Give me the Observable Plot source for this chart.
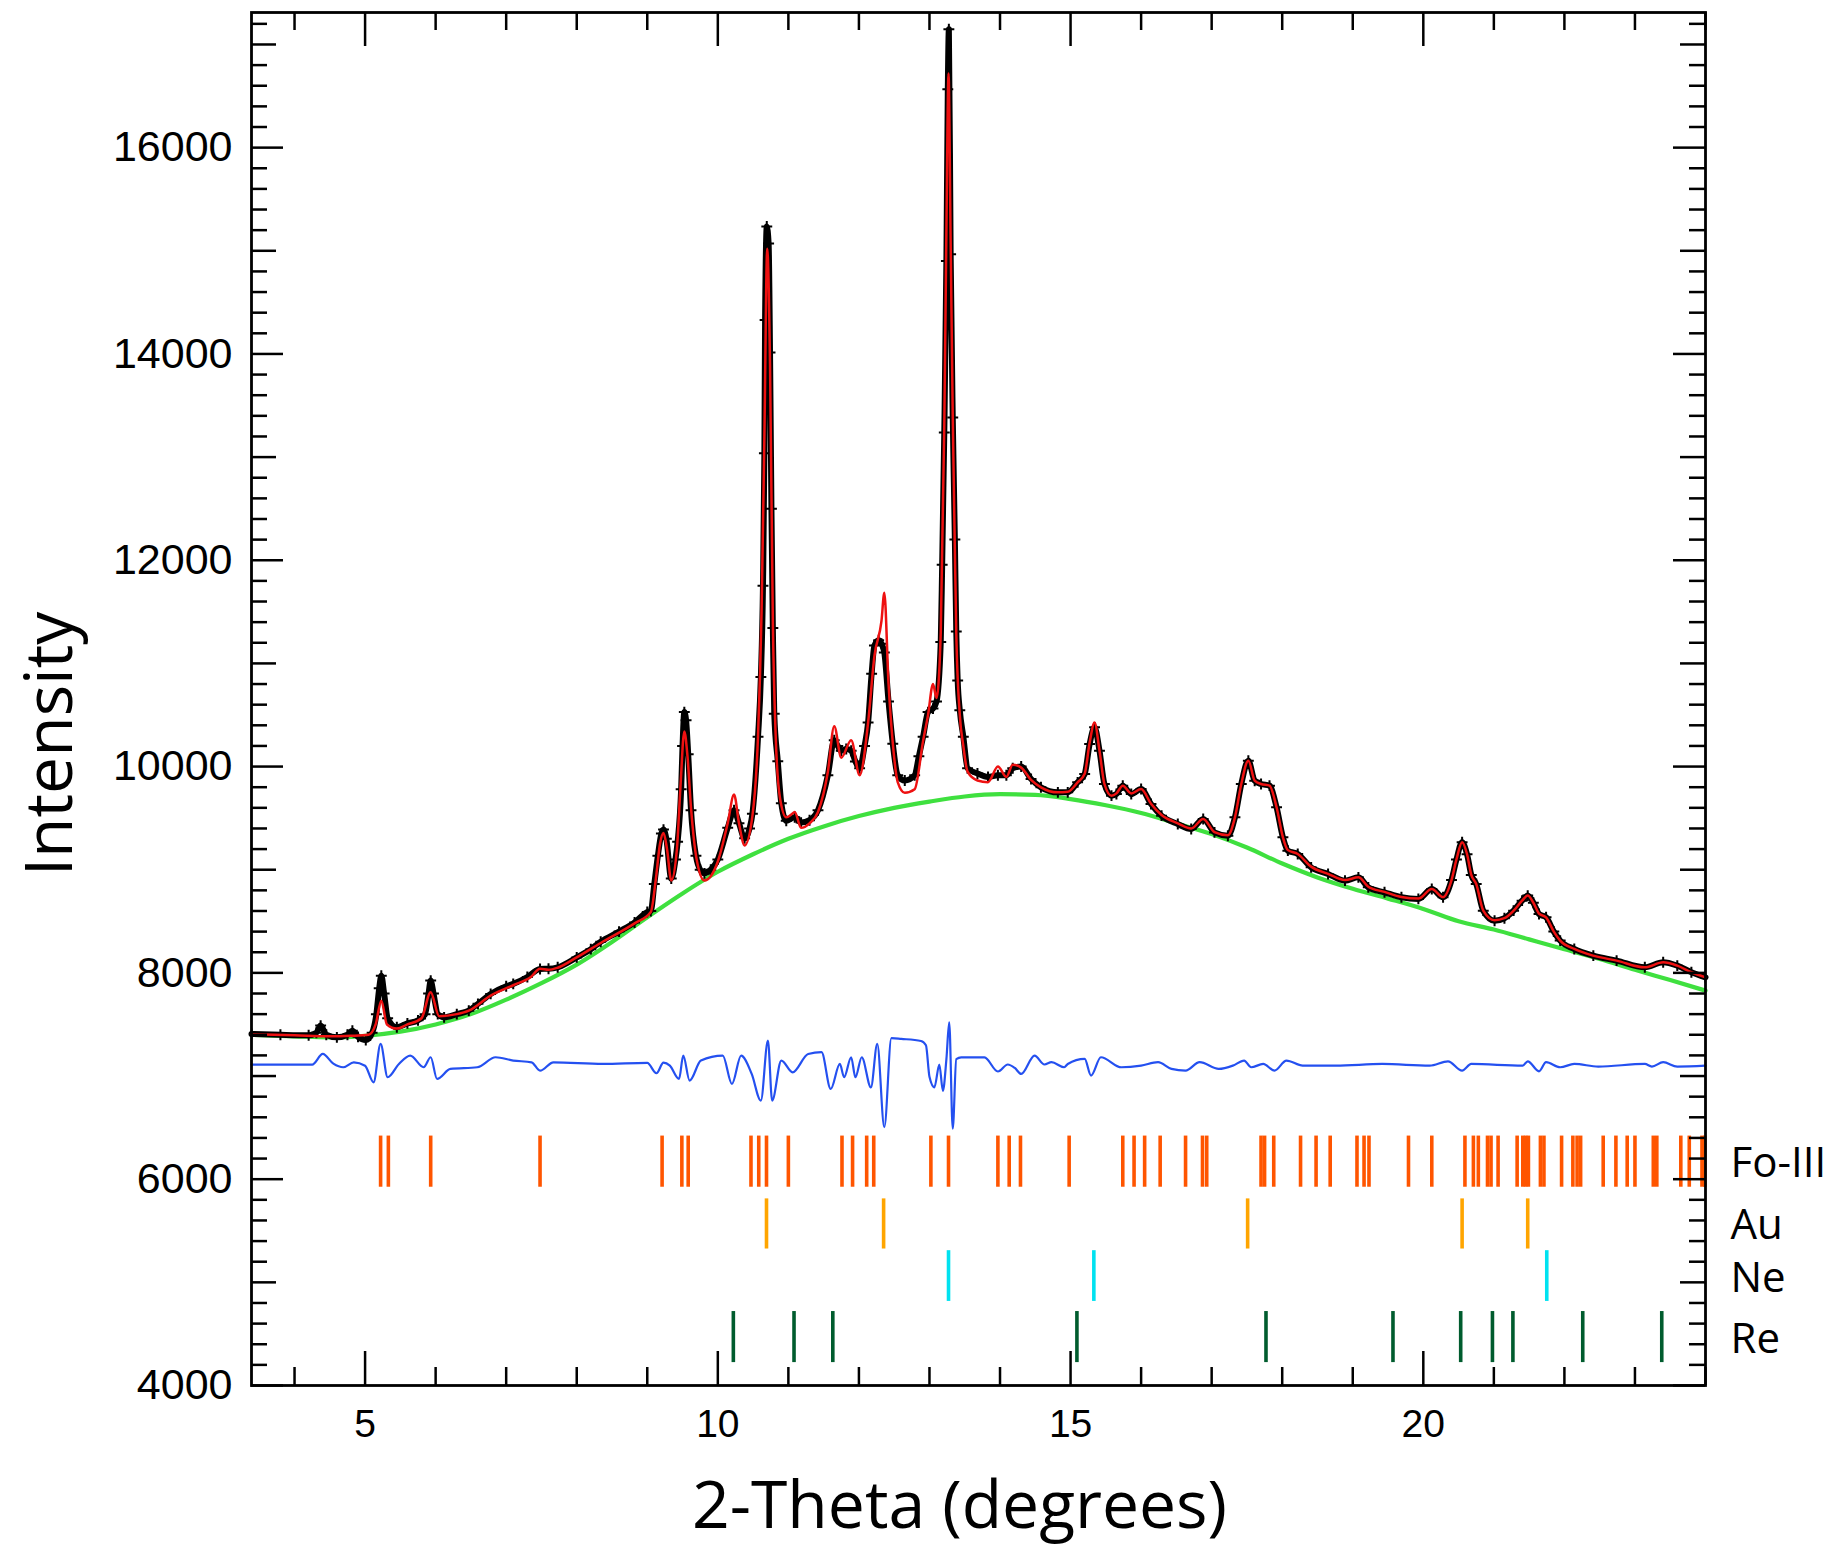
<!DOCTYPE html>
<html><head><meta charset="utf-8">
<script src="https://cdn.jsdelivr.net/npm/d3@7"></script>
<script src="https://cdn.jsdelivr.net/npm/@observablehq/plot@0.6"></script>
<style>html,body{margin:0;padding:0;background:#fff;} svg{display:block;}</style>
</head><body><div id="chart"></div>
<script>
// ---- data (2-theta in degrees, intensity) ----
const observed = [
[3.39,7408],[3.8,7400],[4.2,7395],[4.31,7420],[4.37,7489],[4.45,7400],[4.6,7375],[4.75,7400],[4.82,7440],[4.9,7380],
[5.01,7350],[5.1,7420],[5.16,7600],[5.2,7850],[5.23,7973],[5.27,7800],[5.32,7560],[5.45,7473],[5.6,7510],[5.75,7540],
[5.85,7600],[5.9,7800],[5.93,7925],[5.97,7800],[6.03,7600],[6.12,7569],[6.3,7600],[6.47,7634],[6.6,7700],[6.78,7796],
[7.0,7870],[7.1,7893],[7.3,7960],[7.48,8038],[7.6,8040],[7.73,8054],[8.0,8150],[8.2,8230],[8.34,8302],[8.6,8400],
[8.82,8489],[9.0,8590],[9.05,8600],[9.1,8862],[9.15,9135],[9.2,9350],[9.23,9389],[9.27,9300],[9.34,8914],[9.4,9100],
[9.43,9270],[9.48,9780],[9.5,10200],[9.525,10528],[9.55,10450],[9.58,10120],[9.62,9576],[9.69,9135],[9.75,9000],[9.81,8965],
[9.9,9000],[10.0,9100],[10.14,9406],[10.23,9576],[10.3,9450],[10.38,9304],[10.45,9400],[10.49,9542],[10.57,10290],[10.61,10868],
[10.64,11752],[10.66,13038],[10.67,14328],[10.694,15235],[10.72,15070],[10.74,14014],[10.76,12500],[10.78,11344],[10.8,10511],[10.85,10052],
[10.9,9644],[10.97,9474],[11.09,9508],[11.18,9457],[11.3,9480],[11.42,9576],[11.56,9916],[11.65,10256],[11.7,10200],[11.75,10154],
[11.82,10170],[11.89,10154],[11.95,10050],[12.01,9984],[12.08,10200],[12.13,10426],[12.18,10900],[12.22,11174],[12.28,11225],[12.32,11191],
[12.36,11106],[12.42,10630],[12.48,10222],[12.55,9916],[12.65,9865],[12.79,9916],[12.85,10100],[12.91,10290],[12.98,10528],[13.05,10562],
[13.1,10630],[13.16,11208],[13.18,11956],[13.21,13239],[13.24,14902],[13.26,16566],[13.275,17148],[13.3,14967],[13.33,13384],[13.36,12200],
[13.38,11310],[13.4,10834],[13.43,10545],[13.48,10290],[13.54,9984],[13.68,9933],[13.83,9899],[13.97,9916],[14.09,9916],[14.18,9984],
[14.3,10001],[14.44,9879],[14.58,9799],[14.82,9750],[14.96,9750],[15.1,9847],[15.2,9928],[15.27,10218],[15.34,10380],[15.41,10154],
[15.48,9831],[15.58,9718],[15.65,9734],[15.74,9815],[15.86,9734],[16.0,9782],[16.14,9637],[16.29,9524],[16.52,9443],[16.71,9395],
[16.88,9492],[17.04,9362],[17.23,9330],[17.33,9508],[17.42,9831],[17.52,10057],[17.61,9863],[17.7,9831],[17.82,9815],[17.92,9605],
[18.01,9314],[18.08,9185],[18.22,9153],[18.41,9023],[18.65,8959],[18.89,8894],[19.08,8926],[19.22,8829],[19.45,8781],[19.69,8733],
[19.93,8717],[20.12,8813],[20.28,8733],[20.4,8900],[20.47,9100],[20.55,9266],[20.62,9150],[20.68,8950],[20.75,8862],[20.85,8603],
[21.01,8506],[21.15,8530],[21.28,8603],[21.4,8700],[21.48,8749],[21.56,8680],[21.64,8571],[21.74,8539],[21.85,8400],[21.94,8313],
[22.14,8232],[22.41,8167],[22.74,8119],[23.14,8054],[23.4,8103],[23.6,8070],[23.8,8006],[24.0,7957]
];
const calculated = [
[3.39,7405],[4.0,7395],[4.5,7385],[4.8,7390],[5.05,7400],[5.15,7500],[5.23,7731],[5.31,7500],[5.45,7460],[5.6,7500],
[5.8,7560],[5.93,7812],[6.05,7580],[6.3,7600],[6.47,7634],[6.78,7780],[7.1,7880],[7.35,7960],[7.48,8040],[7.6,8030],
[7.73,8050],[8.0,8150],[8.34,8290],[8.82,8480],[9.05,8590],[9.12,8900],[9.18,9250],[9.23,9356],[9.28,9200],[9.34,8896],
[9.42,9200],[9.47,9800],[9.525,10341],[9.57,10100],[9.62,9600],[9.7,9100],[9.81,8896],[10.0,9080],[10.14,9450],[10.23,9729],
[10.3,9450],[10.38,9236],[10.49,9520],[10.57,10300],[10.62,11500],[10.66,13200],[10.7,15019],[10.74,13900],[10.78,11400],[10.82,10300],
[10.88,9700],[10.97,9508],[11.05,9540],[11.09,9560],[11.18,9406],[11.3,9450],[11.42,9560],[11.56,9950],[11.65,10392],[11.75,10086],
[11.89,10256],[12.01,9916],[12.13,10426],[12.22,11072],[12.32,11412],[12.36,11684],[12.42,10800],[12.48,10230],[12.55,9850],[12.65,9746],
[12.79,9780],[12.91,10250],[12.98,10500],[13.05,10800],[13.1,10664],[13.16,11300],[13.21,13300],[13.24,15200],[13.27,16719],[13.3,15100],
[13.33,13400],[13.36,12100],[13.38,11300],[13.43,10500],[13.48,10200],[13.54,9950],[13.68,9865],[13.83,9848],[13.97,10001],[14.09,9900],
[14.18,10018],[14.3,9990],[14.44,9870],[14.58,9799],[14.82,9750],[14.96,9755],[15.1,9847],[15.2,9930],[15.27,10230],[15.34,10428],
[15.41,10154],[15.48,9831],[15.58,9718],[15.65,9740],[15.74,9815],[15.86,9740],[16.0,9782],[16.14,9640],[16.29,9530],[16.52,9450],
[16.71,9400],[16.88,9492],[17.04,9365],[17.23,9335],[17.33,9508],[17.42,9831],[17.52,10057],[17.61,9863],[17.7,9831],[17.82,9815],
[17.92,9605],[18.01,9314],[18.08,9190],[18.22,9153],[18.41,9030],[18.65,8960],[18.89,8900],[19.08,8926],[19.22,8835],[19.45,8785],
[19.69,8735],[19.93,8720],[20.12,8813],[20.28,8735],[20.4,8900],[20.47,9100],[20.55,9266],[20.62,9150],[20.68,8950],[20.75,8862],
[20.85,8603],[21.01,8510],[21.15,8530],[21.28,8603],[21.4,8700],[21.48,8749],[21.56,8680],[21.64,8575],[21.74,8539],[21.85,8400],
[21.94,8313],[22.14,8232],[22.41,8167],[22.74,8119],[23.14,8054],[23.4,8103],[23.6,8070],[23.8,8006],[24.0,7957]
];
const background = [
[3.39,7400],[4.0,7385],[4.5,7375],[5.0,7390],[5.5,7430],[6.0,7500],[6.5,7600],[7.0,7740],[7.5,7900],[8.0,8080],
[8.5,8300],[9.0,8540],[9.5,8770],[10.0,8980],[10.5,9150],[11.0,9300],[11.5,9420],[12.0,9520],[12.5,9600],[13.0,9660],
[13.5,9710],[14.0,9732],[14.5,9725],[15.0,9685],[15.5,9625],[16.0,9550],[16.5,9450],[17.0,9345],[17.5,9215],[18.0,9060],
[18.5,8925],[19.0,8815],[19.5,8720],[20.0,8620],[20.5,8500],[21.0,8420],[21.5,8325],[22.0,8230],[22.5,8135],[23.0,8030],
[23.5,7930],[24.0,7828]
];
const difference = [
[3.39,7111],[4.25,7111],[4.4,7214],[4.55,7120],[4.69,7085],[4.84,7133],[5.0,7100],[5.12,6939],[5.22,7311],[5.32,6988],
[5.48,7117],[5.64,7198],[5.83,7085],[5.93,7182],[6.02,6972],[6.21,7069],[6.59,7085],[6.85,7182],[7.1,7150],[7.36,7133],
[7.48,7052],[7.67,7133],[8.37,7117],[9.0,7127],[9.13,7027],[9.23,7130],[9.32,7101],[9.45,6972],[9.51,7198],[9.6,6956],
[9.76,7150],[10.07,7198],[10.2,6923],[10.33,7198],[10.48,7021],[10.61,6762],[10.71,7344],[10.77,6762],[10.9,7150],[11.06,7036],
[11.28,7214],[11.47,7231],[11.6,6875],[11.73,7117],[11.79,6988],[11.89,7182],[11.95,6988],[12.04,7182],[12.17,6891],[12.26,7311],
[12.36,6504],[12.46,7367],[12.6,7360],[12.88,7340],[12.95,7299],[13.0,6993],[13.07,6891],[13.14,7112],[13.19,6857],[13.24,7163],
[13.28,7520],[13.33,6490],[13.38,7163],[13.45,7180],[13.78,7180],[13.97,7044],[14.11,7112],[14.21,7078],[14.3,7020],[14.49,7197],
[14.63,7112],[14.73,7134],[14.91,7085],[14.96,7117],[15.2,7166],[15.29,7004],[15.43,7182],[15.72,7085],[16.0,7101],[16.24,7134],
[16.43,7069],[16.63,7053],[16.83,7134],[17.1,7069],[17.3,7101],[17.46,7150],[17.56,7085],[17.73,7117],[17.89,7053],[18.06,7150],
[18.29,7101],[18.76,7101],[19.42,7117],[20.09,7101],[20.35,7143],[20.55,7053],[20.68,7117],[21.41,7101],[21.48,7143],[21.64,7046],
[21.74,7134],[21.94,7085],[22.14,7117],[22.48,7092],[23.14,7117],[23.24,7092],[23.4,7134],[23.6,7092],[24.0,7101]
];
// reflection positions (2-theta) for each phase
const foIII = [5.22,5.33,5.93,7.48,9.21,9.49,9.58,10.47,10.58,10.69,11.0,11.76,11.91,12.11,12.21,13.02,13.27,13.97,14.13,14.29,
  14.98,15.74,15.9,16.05,16.27,16.63,16.87,16.93,17.7,17.75,17.88,18.26,18.48,18.68,19.06,19.16,19.23,19.79,20.12,20.59,
  20.71,20.78,20.91,20.96,21.06,21.33,21.41,21.45,21.49,21.66,21.71,21.96,22.12,22.18,22.23,22.55,22.73,22.89,23.0,23.26,
  23.31,23.65,23.77,23.95,23.99];
const au = [10.69,12.35,17.51,20.55,21.48];
const ne = [13.27,15.33,21.75];
const re = [10.22,11.08,11.63,15.09,17.77,19.57,20.53,20.98,21.27,22.26,23.38];
const phaseNames = ["Fo-III","Au","Ne","Re"];
const xTickLabels = [5,10,15,20];
const yTickLabels = [4000,6000,8000,10000,12000,14000,16000];

// ---- layout / style ----
const W = 1834, H = 1546, mL = 251, mR = 129, mT = 12, mB = 161;
const fw = W - mL - mR, fh = H - mT - mB;
const rowExtent = {"Fo-III":[5922,6418], "Au":[5323,5809], "Ne":[4815,5307], "Re":[4222,4717]};
const phaseColor = {"Fo-III":"#ff5500", "Au":"#ffa500", "Ne":"#00e2f0", "Re":"#005c2e"};
const phaseData = {"Fo-III":foIII, "Au":au, "Ne":ne, "Re":re};
const phaseTicks = phaseNames.flatMap(p => phaseData[p].map(x => ({phase:p, x})));
const labelRows = phaseNames.map(p => ({phase:p, y:(rowExtent[p][0]+rowExtent[p][1])/2}));

const xMinor = d3.range(4, 24.5, 1).filter(v => v % 5 !== 0);
const yMedium = d3.range(5000, 17001, 2000);
const yMinor = d3.range(4200, 17300, 200).filter(v => v % 1000 !== 0);
const tk = {stroke:"black", strokeWidth:2.5};
const titleFont = "'Open Sans', sans-serif";

const chart = Plot.plot({
  width: W, height: H,
  marginLeft: mL, marginRight: mR, marginTop: mT, marginBottom: mB,
  x: {domain: [3.39, 24.0], axis: null},
  y: {domain: [4000, 17310], axis: null},
  style: {background: "white", fontFamily: "'Liberation Sans', Arial, sans-serif", color: "black", overflow: "visible"},
  marks: [
    // phase reflection ticks
    Plot.ruleX(phaseTicks, {x: "x", y1: d => rowExtent[d.phase][0], y2: d => rowExtent[d.phase][1],
      stroke: d => phaseColor[d.phase], strokeWidth: 3.6}),
    // background, observed, calculated, difference
    Plot.line(background, {stroke: "#3fe03f", strokeWidth: 4.2, curve: "monotone-x"}),
    Plot.line(observed, {stroke: "black", strokeWidth: 6, curve: "monotone-x"}),
    Plot.dot(observed, {symbol: "plus", r: 3.6, stroke: "black", strokeWidth: 2, clip: true}),
    Plot.line(calculated, {stroke: "#ee1111", strokeWidth: 2.5, curve: "monotone-x"}),
    Plot.line(difference, {stroke: "#2450f0", strokeWidth: 2.2, curve: "monotone-x"}),
    // inward ticks on all four sides
    Plot.tickX(xTickLabels, {x: d => d, insetTop: fh - 34, ...tk}),
    Plot.tickX(xTickLabels, {x: d => d, insetBottom: fh - 34, ...tk}),
    Plot.tickX(xMinor, {x: d => d, insetTop: fh - 18, ...tk}),
    Plot.tickX(xMinor, {x: d => d, insetBottom: fh - 18, ...tk}),
    Plot.tickY(yTickLabels, {y: d => d, insetRight: fw - 32, ...tk}),
    Plot.tickY(yTickLabels, {y: d => d, insetLeft: fw - 32, ...tk}),
    Plot.tickY(yMedium, {y: d => d, insetRight: fw - 25, ...tk}),
    Plot.tickY(yMedium, {y: d => d, insetLeft: fw - 25, ...tk}),
    Plot.tickY(yMinor, {y: d => d, insetRight: fw - 16, ...tk}),
    Plot.tickY(yMinor, {y: d => d, insetLeft: fw - 16, ...tk}),
    Plot.frame({stroke: "black", strokeWidth: 2.8}),
    // tick labels
    Plot.axisY(yTickLabels, {anchor: "left", tickSize: 0, tickPadding: 19, fontSize: 43, label: null, tickFormat: d => `${d}`}),
    Plot.axisX(xTickLabels, {anchor: "bottom", tickSize: 0, tickPadding: 24, fontSize: 39, label: null, tickFormat: d => `${d}`}),
    // phase labels
    Plot.text(labelRows, {frameAnchor: "right", y: "y", text: "phase", dx: 25, dy: 2, textAnchor: "start",
      fontSize: 42, fontFamily: titleFont, fill: "black"}),
    // axis titles
    Plot.text(["Intensity"], {frameAnchor: "left", text: d => d, rotate: -90, textAnchor: "middle", lineAnchor: "bottom",
      dx: -180, dy: 45, fontSize: 66, fontFamily: titleFont, fill: "black"}),
    Plot.text(["2-Theta (degrees)"], {frameAnchor: "bottom", text: d => d, textAnchor: "middle", lineAnchor: "bottom",
      dx: -19, dy: 142, fontSize: 66, fontFamily: titleFont, fill: "black"})
  ]
});
document.getElementById("chart").appendChild(chart);
</script></body></html>
